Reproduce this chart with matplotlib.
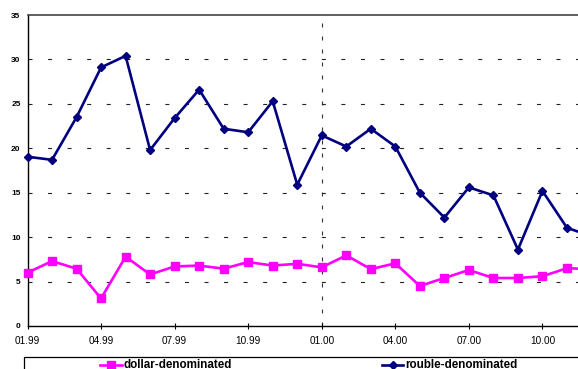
import matplotlib
matplotlib.use('Agg')
import matplotlib.pyplot as plt
import numpy as np
from matplotlib.lines import Line2D
from matplotlib.patches import Rectangle

plt.rcParams['font.family'] = ['Liberation Sans', 'DejaVu Sans']

months = ['01.99', '02.99', '03.99', '04.99', '05.99', '06.99',
          '07.99', '08.99', '09.99', '10.99', '11.99', '12.99',
          '01.00', '02.00', '03.00', '04.00', '05.00', '06.00',
          '07.00', '08.00', '09.00', '10.00', '11.00', '12.00']
dollar = [6.0, 7.3, 6.45, 3.1, 7.8, 5.8, 6.7, 6.8, 6.45, 7.2, 6.8, 7.0,
          6.6, 7.95, 6.4, 7.05, 4.5, 5.4, 6.3, 5.4, 5.4, 5.6, 6.5, 6.4]
rouble = [19.05, 18.7, 23.5, 29.1, 30.4, 19.8, 23.4, 26.6, 22.2, 21.8, 25.3, 15.9,
          21.45, 20.2, 22.2, 20.2, 15.0, 12.2, 15.6, 14.7, 8.6, 15.2, 11.05, 10.1]
yticks = [0, 5, 10, 15, 20, 25, 30, 35]

W, H = 578, 369
fig = plt.figure(figsize=(W / 100, H / 100), dpi=100)
ax = fig.add_axes([27.5 / W, 43 / H, 564 / W, 311 / H])

x = np.arange(len(months))
ax.plot(x, dollar, color='#ff00ff', lw=1.9, marker='s', ms=5.6, clip_on=False, zorder=4)
ax.plot(x, rouble, color='#000080', lw=1.9, marker='D', ms=4.2, clip_on=False, zorder=5)

ax.set_xlim(0, len(months) - 1)
ax.set_ylim(0, 35)

# dashed horizontal grid, one dashed divider at the turn of the year
for v in yticks[1:-1]:
    ax.axhline(v, color='#222222', lw=0.8, ls=(0, (3.6, 14.0)), zorder=1)
ax.axvline(12, color='#333333', lw=0.8, ls=(0, (3.6, 8.1)), zorder=1)

ax.set_yticks(yticks)
ax.set_yticklabels([str(v) for v in yticks], fontsize=6, fontweight='bold')
ax.tick_params(axis='y', length=0, pad=5)

ax.set_xticks(x[::3])
ax.set_xticklabels(months[::3], fontsize=7.2)
ax.tick_params(axis='x', direction='inout', length=5, width=0.8, pad=4.5)

for s in ['left', 'bottom']:
    ax.spines[s].set_color('black')
    ax.spines[s].set_linewidth(1.0)
ax.spines['top'].set_color('#444444')
ax.spines['top'].set_linewidth(1.2)
ax.spines['right'].set_visible(False)

# legend box along the bottom edge
tf = fig.transFigure
top = 1 - 357 / H
fig.patches.append(Rectangle((24 / W, -10 / H), 600 / W, top + 10 / H, transform=tf,
                             fill=False, edgecolor='black', lw=0.9))
ly = 1 - 364.5 / H
fig.lines.append(Line2D([100 / W, 122 / W], [ly, ly], transform=tf, color='#ff00ff', lw=1.9))
fig.lines.append(Line2D([111 / W], [ly], transform=tf, color='#ff00ff', marker='s', ms=5.6))
fig.text(123 / W, ly, 'dollar-denominated', fontsize=8.4, fontweight='bold', va='center')
fig.lines.append(Line2D([382 / W, 403 / W], [ly, ly], transform=tf, color='#000080', lw=1.9))
fig.lines.append(Line2D([392.5 / W], [ly], transform=tf, color='#000080', marker='D', ms=4.2))
fig.text(405 / W, ly, 'rouble-denominated', fontsize=8.4, fontweight='bold', va='center')

fig.savefig('out.png', dpi=100)
